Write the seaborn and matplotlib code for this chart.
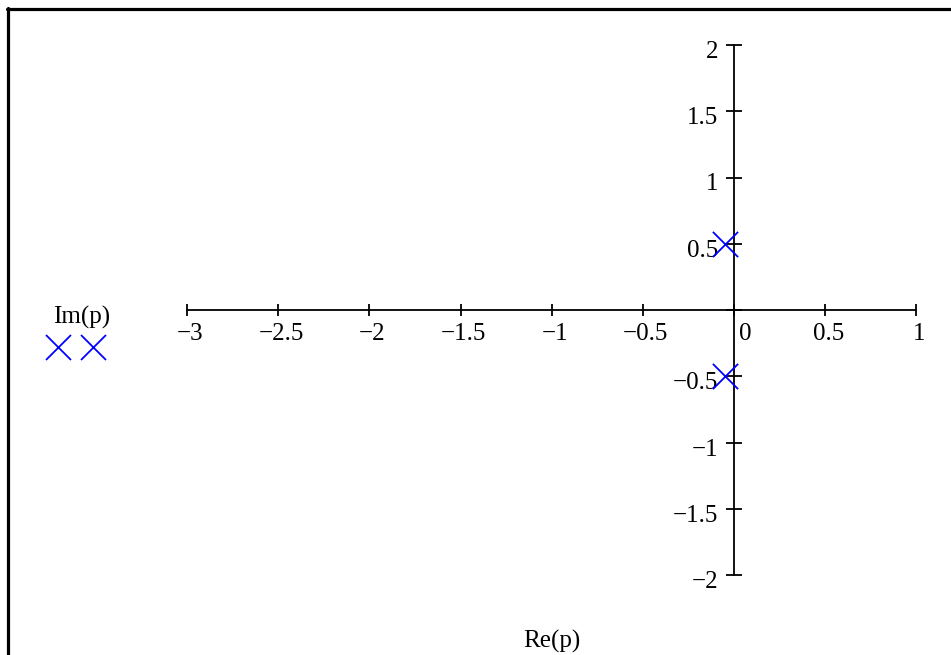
import matplotlib
matplotlib.use("Agg")
import matplotlib.pyplot as plt
from matplotlib.lines import Line2D
import numpy as np
import seaborn as sns

# Poles of the system (real and imaginary parts)
pole_re = [-0.05, -0.05]
pole_im = [0.5, -0.5]

# Axis ticks and their labels
x_ticks = [-3, -2.5, -2, -1.5, -1, -0.5, 0, 0.5, 1]
x_labels = ["−3", "−2.5", "−2", "−1.5", "−1", "−0.5", "0", "0.5", "1"]
y_ticks = [-2, -1.5, -1, -0.5, 0, 0.5, 1, 1.5, 2]
y_labels = ["−2", "−1.5", "−1", "−0.5", "", "0.5", "1", "1.5", "2"]

sns.set_theme(style="white")
plt.rcParams["font.family"] = ["Liberation Serif", "DejaVu Serif"]
plt.rcParams["text.color"] = "black"

W, H, DPI = 951, 655, 100
fig = plt.figure(figsize=(W / DPI, H / DPI), dpi=DPI)
fig.patch.set_facecolor("white")
ax = fig.add_axes([0, 0, 1, 1])
ax.set_axis_off()

# pixel layout of the origin and the unit lengths
x0_px, y0_px = 734.0, 310.0
ux, uy = 182.3, 132.5
ax.set_xlim(-x0_px / ux, (W - x0_px) / ux)
ax.set_ylim((y0_px - H) / uy, y0_px / uy)

FS = 18
LW = 1.3

# crossed axes through the origin
ax.plot([x_ticks[0], x_ticks[-1]], [0, 0], color="black", lw=LW, zorder=2)
ax.plot([0, 0], [y_ticks[0], y_ticks[-1]], color="black", lw=LW, zorder=2)
ax.plot(x_ticks, np.zeros(len(x_ticks)), marker="|", ms=9, mew=LW,
        ls="none", color="black", zorder=2)
ax.plot(np.zeros(len(y_ticks)), y_ticks, marker="_", ms=11.5, mew=LW,
        ls="none", color="black", zorder=2)

for xv, lab in zip(x_ticks, x_labels):
    dx = 11 if xv == 0 else 3
    ax.annotate(lab, xy=(xv, 0), xytext=(dx, -30), textcoords="offset pixels",
                ha="center", va="baseline", fontsize=FS, color="black")
for yv, lab in zip(y_ticks, y_labels):
    if lab:
        ax.annotate(lab, xy=(0, yv), xytext=(-16, -13), textcoords="offset pixels",
                    ha="right", va="baseline", fontsize=FS, color="black")

# poles
sns.scatterplot(x=pole_re, y=pole_im, marker="x", s=330, color="blue",
                linewidth=1.3, ax=ax, zorder=3, legend=False)

proxy = Line2D([], [], marker="x", ms=18, mew=1.3, ls="none", color="blue")
leg = ax.legend(handles=[proxy], labels=[""], numpoints=2, title="Im(p)",
                title_fontsize=FS, fontsize=FS, frameon=False, handlelength=2.0,
                handletextpad=0.5, borderpad=0, borderaxespad=0,
                labelspacing=0.35,
                loc="upper left", bbox_to_anchor=(50.5 / W, 1 - 306 / H),
                bbox_transform=fig.transFigure)
leg.get_title().set_color("black")

ax.text((x_ticks[0] + x_ticks[-1]) / 2, 14 / H, "Re(p)",
        transform=ax.get_xaxis_transform(), ha="center", va="center",
        fontsize=FS, color="black")

# page frame (top and left edges)
fig.add_artist(Line2D([7 / W, 1], [1 - 8.8 / H, 1 - 8.8 / H], color="black",
                      lw=2.3, transform=fig.transFigure))
fig.add_artist(Line2D([8.3 / W, 8.3 / W], [0, 1 - 7.5 / H], color="black",
                      lw=2.3, transform=fig.transFigure))

fig.savefig("out.png", dpi=DPI, facecolor="white")
